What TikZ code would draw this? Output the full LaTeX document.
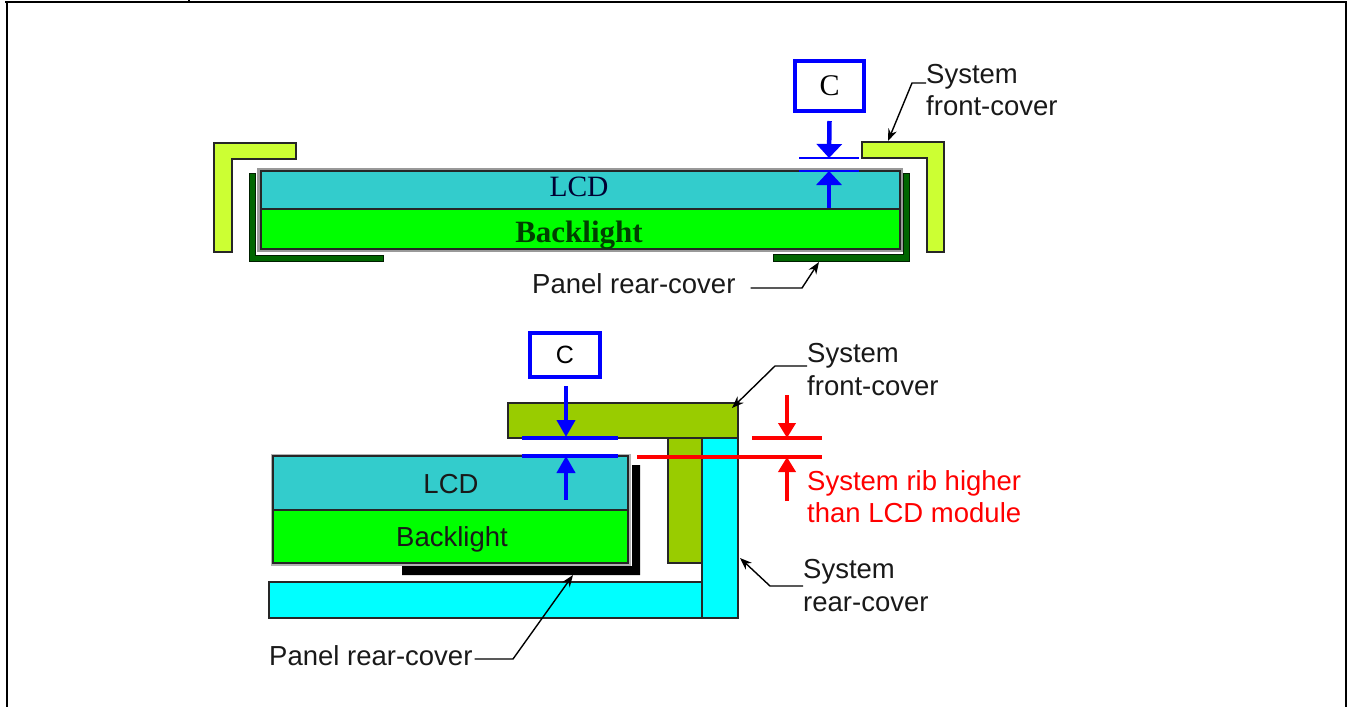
\documentclass[tikz,border=0pt]{standalone}
\usepackage{fontspec}
\setmainfont{Liberation Serif}
\setsansfont{Liberation Sans}
\usetikzlibrary{arrows.meta}
\definecolor{fcLight}{HTML}{CCFF33}
\definecolor{fcOlive}{HTML}{99CC00}
\definecolor{rcCyan}{HTML}{00FFFF}
\definecolor{lcdCol}{HTML}{33CCCC}
\definecolor{blCol}{HTML}{00FF00}
\definecolor{prcGreen}{HTML}{006600}
\definecolor{dimBlue}{HTML}{0000FF}
\definecolor{dimRed}{HTML}{FF0000}
\begin{document}
\begin{tikzpicture}[x=1pt,y=-1pt,
  part/.style={draw=black!85,line width=1.2pt},
  lbl/.style={font=\fontsize{27.5}{32.5}\selectfont\sffamily,inner sep=0pt,align=left,text=black!90},
  leader/.style={draw=black,line width=1.4pt,-{Stealth[length=12pt,width=9pt]}},
  bluearrowT/.style={draw=dimBlue,line width=4.5pt,-{Triangle[length=14pt,width=25pt]}},
  bluearrowB/.style={draw=dimBlue,line width=4pt,-{Triangle[length=17pt,width=18pt]}},
  redarrow/.style={draw=dimRed,line width=4pt,-{Triangle[length=15pt,width=17pt]}},
  frame/.style={draw=black,line width=2.5pt},
]
\useasboundingbox (0,0) rectangle (1352,707);

% ---------- frame ----------
\draw[frame] (5,2) -- (1347,2);
\draw[frame] (7,1) -- (7,707);
\draw[frame] (1346,1) -- (1346,707);
\draw[frame] (189,0) -- (189,3);

% ================= TOP DIAGRAM =================
% system front cover (two L pieces)
\draw[part,fill=fcLight] (214,143) -- (296,143) -- (296,159) -- (232,159) -- (232,252) -- (214,252) -- cycle;
\draw[part,fill=fcLight] (862,142) -- (944,142) -- (944,252) -- (927,252) -- (927,158) -- (862,158) -- cycle;
% panel rear cover (dark green)
\draw[draw=black!70!prcGreen,fill=prcGreen,line width=1pt] (249,173) -- (255,173) -- (255,255) -- (383,255) -- (383,261) -- (249,261) -- cycle;
\draw[draw=black!70!prcGreen,fill=prcGreen,line width=1pt] (909,173) -- (903,173) -- (903,254) -- (773,254) -- (773,261) -- (909,261) -- cycle;
% grey casing
\fill[black!40] (257,168) rectangle (903,252);
% LCD and backlight
\draw[part,fill=lcdCol] (261,171) rectangle (900,209);
\draw[part,fill=blCol] (261,209) rectangle (900,249);
\node[inner sep=0pt,font=\fontsize{29.5}{30}\selectfont,text=black!80!blue,anchor=base] (lcdT) at (579,196) {LCD};
\node[inner sep=0pt,font=\fontsize{31}{31}\selectfont\bfseries,text=black!75!green,anchor=base] (blT) at (579,242) {Backlight};

% C gap dimension
\node[draw=dimBlue,line width=4pt,minimum width=69pt,minimum height=50pt,inner sep=0pt,
      font=\fontsize{30}{30}\selectfont] (cT) at (829.5,86) {C};
\draw[draw=dimBlue,line width=2pt] (799,158) -- (859,158);
\draw[draw=dimBlue,line width=2pt] (799,171) -- (859,171);
\coordinate (cTdown) at (829,158);
\coordinate (cTup) at (829,171);
\draw[bluearrowT] (cT.south) ++(0,8) -- (cTdown);
\draw[bluearrowT] (829,208) -- (cTup);

% labels (base anchor = baseline of the last line)
\node[lbl,anchor=base west] (sfcT) at (926,115.5) {System\\front-cover};
\coordinate (sfcTtip) at (888,141);
\draw[leader] (sfcT.base west) ++(0,-32.5) -- ++(-14,0) -- (sfcTtip);

\node[lbl,anchor=base west] (prcT) at (532,293) {Panel rear-cover};
\coordinate (prcTtip) at (819,262);
\draw[leader] (prcT.base east) ++(15,-5) -- (802,288) -- (prcTtip);

% ================= BOTTOM DIAGRAM =================
% system rear cover (cyan)
\draw[part,fill=rcCyan] (269,582) rectangle (702,618);
\draw[part,fill=rcCyan] (702,438) rectangle (738,618);
% system front cover (olive)
\draw[part,fill=fcOlive] (508,403) rectangle (738,438);
\draw[part,fill=fcOlive] (668,438) rectangle (702,563);
% panel rear cover (black L)
\fill[black] (632,465) -- (640,465) -- (640,575) -- (402,575) -- (402,566) -- (632,566) -- cycle;
% grey casing
\fill[black!30] (271,454) rectangle (631,566);
% LCD and backlight
\draw[part,fill=lcdCol] (273,456) rectangle (628,510);
\draw[part,fill=blCol] (273,510) rectangle (628,563);
\node[lbl,anchor=base] (lcdB) at (451,493) {LCD};
\node[lbl,anchor=base] (blB) at (452,546) {Backlight};

% C gap dimension
\node[draw=dimBlue,line width=4pt,minimum width=70pt,minimum height=44pt,inner sep=0pt,
      font=\fontsize{25}{25}\sffamily\selectfont] (cB) at (565,355) {C};
\draw[draw=dimBlue,line width=3.5pt] (522,438) -- (618,438);
\draw[draw=dimBlue,line width=3.5pt] (522,456) -- (618,456);
\coordinate (cBdown) at (566,437);
\coordinate (cBup) at (566,456);
\draw[bluearrowB] (566,386) -- (cBdown);
\draw[bluearrowB] (566,500) -- (cBup);

% red rib dimension
\draw[draw=dimRed,line width=3.5pt] (752,438) -- (822,438);
\draw[draw=dimRed,line width=3.5pt] (637,457) -- (822,457);
\coordinate (rDown) at (787,438);
\coordinate (rUp) at (787,457);
\draw[redarrow] (787,395) -- (rDown);
\draw[redarrow] (787,501) -- (rUp);
\node[lbl,anchor=base west,text=dimRed] (ribB) at (807,522.5) {System rib higher\\than LCD module};

% labels
\node[lbl,anchor=base west] (sfcB) at (807,395) {System\\front-cover};
\coordinate (sfcBtip) at (732,408);
\draw[leader] (sfcB.base west) ++(0,-29) -- (775,366) -- (sfcBtip);

\node[lbl,anchor=base west] (srcB) at (803,611) {System\\rear-cover};
\coordinate (srcBtip) at (740,558);
\draw[leader] (srcB.base west) ++(0,-25) -- (770,586) -- (srcBtip);

\node[lbl,anchor=base west] (prcB) at (269,665) {Panel rear-cover};
\coordinate (prcBtip) at (573,575);
\draw[leader] (prcB.base east) ++(2,-6) -- (513,659) -- (prcBtip);

\end{tikzpicture}
\end{document}
